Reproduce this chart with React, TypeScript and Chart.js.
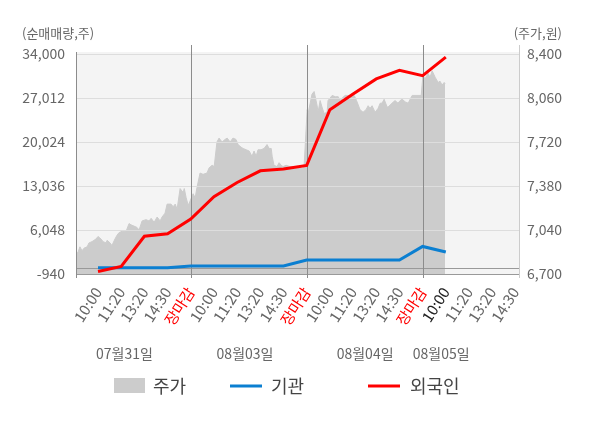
import React, { useEffect, useRef } from 'react';
import { Chart } from 'chart.js/auto';

// x axis: one unit per tick label (10:00, 11:20, 13:20, 14:30, 장마감 per day)
const timeLabels = [
  '10:00', '11:20', '13:20', '14:30', '장마감',
  '10:00', '11:20', '13:20', '14:30', '장마감',
  '10:00', '11:20', '13:20', '14:30', '장마감',
  '10:00', '11:20', '13:20', '14:30',
];
const dateLabels = ['07월31일', '08월03일', '08월04일', '08월05일'];
const datePos = [2.14, 7.34, 12.52, 15.8];
const dayClose = [5, 10, 15];
const currentIndex = 15;

const leftTicks = [-940, 6048, 13036, 20024, 27012, 34000];
const rightTicks = [6700, 7040, 7380, 7720, 8060, 8400];

// net buying, shares (one value per time label)
const foreignNet = [-550, 250, 5050, 5450, 7800, 11350, 13600, 15450, 15750, 16300, 25150, 27650, 30050, 31400, 30550, 33500];
const institutionNet = [50, 50, 50, 50, 330, 330, 330, 330, 330, 1280, 1280, 1280, 1280, 1280, 3440, 2550];

// stock price, won
const priceTime = [
  0.05, 0.14, 0.22, 0.31, 0.4, 0.53, 0.61, 0.74, 0.91, 1.0, 1.13, 1.22, 1.35, 1.39, 1.52,
  1.6, 1.73, 1.82, 1.91, 2.04, 2.21, 2.34, 2.42, 2.55, 2.68, 2.77, 2.9, 3.07, 3.2, 3.29,
  3.42, 3.55, 3.68, 3.76, 3.89, 3.98, 4.15, 4.24, 4.33, 4.41, 4.54, 4.67, 4.72, 4.8, 4.89,
  5.01, 5.1, 5.19, 5.27, 5.4, 5.53, 5.7, 5.79, 5.92, 6.01, 6.13, 6.22, 6.35, 6.48, 6.57,
  6.7, 6.82, 6.95, 7.04, 7.17, 7.26, 7.39, 7.52, 7.64, 7.73, 7.82, 7.9, 8.03, 8.16, 8.29,
  8.38, 8.47, 8.51, 8.59, 8.72, 8.81, 8.9, 8.98, 9.11, 9.28, 9.59, 9.72, 9.8, 9.89,
  10.02, 10.06, 10.15, 10.23, 10.32, 10.45, 10.49, 10.58, 10.66, 10.75, 10.88, 10.92, 11.01, 11.1, 11.23,
  11.36, 11.44, 11.53, 11.66, 11.79, 11.87, 11.96, 12.05, 12.15, 12.3, 12.43, 12.56, 12.65, 12.73, 12.82,
  12.95, 13.08, 13.17, 13.25, 13.34, 13.47, 13.51, 13.68, 13.81, 13.94, 14.03, 14.12, 14.25, 14.38, 14.46,
  14.55, 14.94,
  15.01, 15.11, 15.24, 15.32, 15.41, 15.54, 15.67, 15.75, 15.84, 15.93, 15.97,
];
const prices = [
  6850, 6870, 6910, 6880, 6900, 6910, 6940, 6950, 6970, 6990, 6970, 6950, 6940, 6960, 6940,
  6920, 6970, 7000, 7020, 7030, 7030, 7090, 7080, 7070, 7060, 7040, 7110, 7120, 7110, 7130,
  7100, 7140, 7110, 7140, 7170, 7240, 7240, 7220, 7240, 7200, 7360, 7330, 7360, 7290, 7230,
  7280, 7320, 7290, 7370, 7480, 7470, 7480, 7520, 7540, 7530, 7720, 7750, 7720, 7740, 7750,
  7720, 7750, 7740, 7700, 7680, 7670, 7660, 7650, 7610, 7650, 7610, 7660, 7660, 7670, 7700,
  7670, 7670, 7610, 7540, 7530, 7560, 7540, 7530, 7540, 7530, 7530, 7530, 7510, 7540,
  7970, 7940, 8020, 8090, 8110, 8000, 7950, 8040, 7990, 7940, 7950, 8040, 8060, 8080, 8070,
  8070, 8040, 8060, 8080, 8080, 8070, 8080, 8080, 8040, 7970, 7950, 7970, 8000, 7980, 8000,
  7950, 7980, 8020, 8020, 8050, 7990, 7990, 8020, 8040, 8020, 8040, 8050, 8030, 8020, 8050,
  8080, 8080,
  8230, 8210, 8250, 8220, 8270, 8220, 8180, 8190, 8160, 8180, 8170,
];

const FONT = '"Noto Sans CJK KR", "Noto Sans", sans-serif';
const RED = '#ff0000';
const BLUE = '#0b7fd1';
const AREA = '#cccccc';

const fmt = (v: number) => v.toLocaleString('en-US');

const overlay = {
  id: 'overlay',
  beforeDraw(chart: any) {
    const { ctx, chartArea: a } = chart;
    ctx.save();
    ctx.fillStyle = '#f4f4f4';
    ctx.fillRect(a.left, a.top - 2, a.right - a.left, a.bottom - a.top + 2);
    ctx.restore();
  },
  afterDatasetDraw(chart: any, args: any) {
    if (args.index !== 0) return;
    const { ctx, chartArea: a, scales } = chart;
    const y = scales.y;
    const x = scales.x;
    ctx.save();
    ctx.lineWidth = 1;
    ctx.strokeStyle = '#dddddd';
    leftTicks.slice(1).forEach(v => {
      const py = Math.round(y.getPixelForValue(v)) + 0.5;
      ctx.beginPath();
      ctx.moveTo(a.left, py);
      ctx.lineTo(a.right, py);
      ctx.stroke();
    });
    // zero line and bottom axis
    ctx.strokeStyle = '#999999';
    [0, leftTicks[0]].forEach(v => {
      const py = Math.round(y.getPixelForValue(v)) + 0.5;
      ctx.beginPath();
      ctx.moveTo(a.left, py);
      ctx.lineTo(a.right, py);
      ctx.stroke();
    });
    // day separators
    ctx.strokeStyle = '#8c8c8c';
    dayClose.forEach(v => {
      const px = Math.round(x.getPixelForValue(v)) + 0.5;
      ctx.beginPath();
      ctx.moveTo(px, a.top - 9);
      ctx.lineTo(px, a.bottom + 4);
      ctx.stroke();
    });
    // left axis line
    ctx.beginPath();
    ctx.moveTo(Math.round(a.left) + 0.5, a.top - 2);
    ctx.lineTo(Math.round(a.left) + 0.5, a.bottom + 4);
    ctx.stroke();
    // right axis line
    ctx.strokeStyle = '#cccccc';
    ctx.beginPath();
    ctx.moveTo(Math.round(a.right) - 0.5, a.top - 9);
    ctx.lineTo(Math.round(a.right) - 0.5, a.bottom + 4);
    ctx.stroke();
    ctx.restore();
  },
  afterDraw(chart: any) {
    const { ctx, chartArea: a, scales } = chart;
    const x = scales.x;
    ctx.save();
    // axis titles
    ctx.font = `13px ${FONT}`;
    ctx.fillStyle = '#666666';
    ctx.textBaseline = 'middle';
    ctx.textAlign = 'left';
    ctx.fillText('(순매매량,주)', 22, 33);
    ctx.textAlign = 'right';
    ctx.fillText('(주가,원)', 562, 33);

    // rotated time labels
    ctx.font = `15px ${FONT}`;
    timeLabels.forEach((label, i) => {
      const px = x.getPixelForValue(i + 1);
      ctx.save();
      ctx.translate(px, a.bottom + 15);
      ctx.rotate((-57 * Math.PI) / 180);
      ctx.textAlign = 'right';
      ctx.textBaseline = 'middle';
      ctx.fillStyle = label === '장마감' ? RED : i === currentIndex ? '#222222' : '#666666';
      ctx.fillText(label, 0, 0);
      ctx.restore();
    });

    // date labels
    ctx.font = `14px ${FONT}`;
    ctx.fillStyle = '#666666';
    ctx.textAlign = 'center';
    ctx.textBaseline = 'middle';
    dateLabels.forEach((d, i) => {
      ctx.fillText(d, x.getPixelForValue(datePos[i]), 354);
    });

    // legend
    const ly = 386;
    ctx.font = `18px ${FONT}`;
    ctx.textAlign = 'left';
    ctx.fillStyle = AREA;
    ctx.fillRect(114, ly - 8, 31, 15);
    ctx.fillStyle = '#444444';
    ctx.fillText('주가', 153, ly);
    ctx.lineWidth = 3;
    ctx.strokeStyle = BLUE;
    ctx.beginPath();
    ctx.moveTo(230, ly);
    ctx.lineTo(262, ly);
    ctx.stroke();
    ctx.fillText('기관', 271, ly);
    ctx.strokeStyle = RED;
    ctx.beginPath();
    ctx.moveTo(368, ly);
    ctx.lineTo(400, ly);
    ctx.stroke();
    ctx.fillText('외국인', 410, ly);
    ctx.restore();
  },
};

const App = () => {
  const canvasRef = useRef<HTMLCanvasElement>(null);
  const chartRef = useRef<Chart | null>(null);

  useEffect(() => {
    document.body.style.margin = '0';
    if (!canvasRef.current) return;

    chartRef.current = new Chart(canvasRef.current, {
      type: 'line',
      data: {
        datasets: [
          {
            label: '주가',
            data: priceTime.map((t, i) => ({ x: t, y: prices[i] })),
            yAxisID: 'yR',
            borderColor: AREA,
            borderWidth: 1,
            backgroundColor: AREA,
            fill: 'start',
            pointRadius: 0,
            tension: 0,
            order: 2,
          },
          {
            label: '기관',
            data: institutionNet.map((v, i) => ({ x: i + 1, y: v })),
            yAxisID: 'y',
            borderColor: BLUE,
            borderWidth: 3,
            fill: false,
            pointRadius: 0,
            tension: 0,
            order: 1,
          },
          {
            label: '외국인',
            data: foreignNet.map((v, i) => ({ x: i + 1, y: v })),
            yAxisID: 'y',
            borderColor: RED,
            borderWidth: 3,
            fill: false,
            pointRadius: 0,
            tension: 0,
            order: 0,
          },
        ],
      },
      options: {
        responsive: false,
        animation: false,
        devicePixelRatio: 1,
        layout: { padding: { top: 54, bottom: 154, left: 0, right: 0 } },
        plugins: { legend: { display: false }, tooltip: { enabled: false } },
        scales: {
          x: {
            type: 'linear',
            min: 0.05,
            max: 19.2,
            display: false,
          },
          y: {
            position: 'left',
            min: leftTicks[0],
            max: leftTicks[leftTicks.length - 1],
            afterBuildTicks: (s: any) => { s.ticks = leftTicks.map(v => ({ value: v })); },
            afterFit: (s: any) => { s.width = 76; },
            grid: { display: false, drawTicks: false },
            border: { display: false },
            ticks: {
              padding: 11,
              color: '#666666',
              font: { family: FONT, size: 14 },
              callback: (v: any) => fmt(Number(v)),
            },
          },
          yR: {
            position: 'right',
            min: rightTicks[0],
            max: rightTicks[rightTicks.length - 1],
            afterBuildTicks: (s: any) => { s.ticks = rightTicks.map(v => ({ value: v })); },
            afterFit: (s: any) => { s.width = 80; },
            grid: { display: false, drawTicks: false },
            border: { display: false },
            ticks: {
              padding: 7,
              color: '#666666',
              font: { family: FONT, size: 14 },
              callback: (v: any) => fmt(Number(v)),
            },
          },
        },
      },
      plugins: [overlay],
    });

    return () => {
      if (chartRef.current) {
        chartRef.current.destroy();
        chartRef.current = null;
      }
    };
  }, []);

  return (
    <div style={{ width: 600, height: 428, background: '#ffffff' }}>
      <canvas ref={canvasRef} width={600} height={428}></canvas>
    </div>
  );
};

export default App;
